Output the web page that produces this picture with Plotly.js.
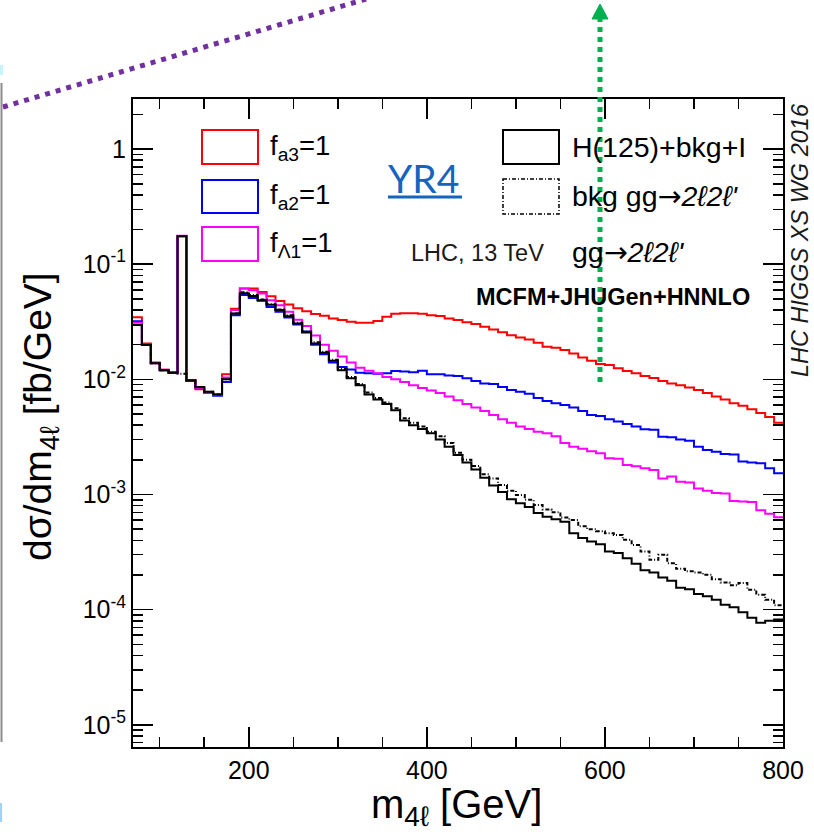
<!DOCTYPE html>
<html>
<head>
<meta charset="utf-8">
<script src="https://cdn.plot.ly/plotly-3.0.1.min.js"></script>
<style>
  html, body { margin: 0; padding: 0; background: #ffffff; }
  #chart { width: 814px; height: 839px; }
</style>
</head>
<body>
<div id="chart"></div>
<script>
// m4l bin edges [GeV], 10 GeV bins from 70 to 800
const binEdges = [70, 80, 90, 100, 110, 120, 130, 140, 150, 160, 170, 180, 190, 200, 210, 220, 230, 240, 250, 260,
  270, 280, 290, 300, 310, 320, 330, 340, 350, 360, 370, 380, 390, 400, 410, 420, 430, 440, 450, 460,
  470, 480, 490, 500, 510, 520, 530, 540, 550, 560, 570, 580, 590, 600, 610, 620, 630, 640, 650, 660,
  670, 680, 690, 700, 710, 720, 730, 740, 750, 760, 770, 780, 790, 800];

// dsigma/dm4l [fb/GeV], one value per bin
const fa3 = [0.0346, 0.0205, 0.0140, 0.0121, 0.0115, 0.176, 0.0097, 0.0082, 0.0076, 0.0074,
  0.0111, 0.041, 0.0615, 0.0615, 0.0575, 0.0527, 0.048, 0.0447, 0.0415, 0.039,
  0.037, 0.0356, 0.0338, 0.0327, 0.0316, 0.031, 0.031, 0.0322, 0.035, 0.0372,
  0.0376, 0.0376, 0.0372, 0.0360, 0.0355, 0.0337, 0.0327, 0.0313, 0.0302, 0.0286,
  0.0271, 0.0257, 0.0242, 0.0231, 0.0222, 0.0208, 0.0192, 0.0188, 0.0180, 0.0168,
  0.0155, 0.0145, 0.0136, 0.0133, 0.0125, 0.0118, 0.0113, 0.0107, 0.0103, 0.0097,
  0.0092, 0.0089, 0.0085, 0.0081, 0.0076, 0.0071, 0.0067, 0.0062, 0.0059, 0.0055,
  0.0051, 0.0047, 0.0042];

const fa2 = [0.032, 0.0202, 0.0139, 0.0120, 0.0114, 0.175, 0.0097, 0.0085, 0.0077, 0.0072,
  0.0095, 0.036, 0.054, 0.051, 0.0481, 0.0426, 0.0386, 0.0345, 0.030, 0.026,
  0.020, 0.0165, 0.014, 0.0128, 0.0122, 0.0114, 0.0113, 0.0112, 0.0113, 0.0118,
  0.0117, 0.0115, 0.0119, 0.0111, 0.0111, 0.0108, 0.0107, 0.0102, 0.0097, 0.0092,
  0.0091, 0.0086, 0.0081, 0.0078, 0.0075, 0.0069, 0.0065, 0.0062, 0.0060, 0.0057,
  0.0053, 0.0049, 0.0048, 0.0045, 0.0043, 0.0041, 0.0039, 0.00368, 0.00365, 0.00318,
  0.00315, 0.0030, 0.00293, 0.0026, 0.00243, 0.00235, 0.00225, 0.00222, 0.00193, 0.0019,
  0.00187, 0.00169, 0.00153];

const fL1 = [0.031, 0.0201, 0.0138, 0.0121, 0.0115, 0.177, 0.0098, 0.0085, 0.0077, 0.0073,
  0.0104, 0.040, 0.0615, 0.0595, 0.0557, 0.0487, 0.0441, 0.0386, 0.033, 0.029,
  0.024, 0.020, 0.0177, 0.0158, 0.014, 0.0126, 0.0119, 0.0113, 0.0105, 0.0100,
  0.0095, 0.0089, 0.0084, 0.0080, 0.0076, 0.0071, 0.0066, 0.0061, 0.0057, 0.0053,
  0.0049, 0.0045, 0.0042, 0.0039, 0.0037, 0.0035, 0.0034, 0.0032, 0.0028, 0.0026,
  0.0025, 0.00237, 0.00228, 0.00206, 0.00204, 0.0018, 0.00176, 0.00169, 0.00163, 0.00138,
  0.00143, 0.00129, 0.00127, 0.00113, 0.00108, 0.00103, 0.00102, 0.00088, 0.00087, 0.00086,
  0.00073, 0.00068, 0.000636];

const sigBkgInt = [0.0296, 0.0199, 0.0138, 0.0120, 0.0114, 0.175, 0.0098, 0.0086, 0.0078, 0.0074,
  0.0100, 0.0374, 0.056, 0.053, 0.0487, 0.0445, 0.0400, 0.0354, 0.0306, 0.0255,
  0.0205, 0.0170, 0.0145, 0.0120, 0.0102, 0.0089, 0.0074, 0.0067, 0.0061, 0.0054,
  0.0044, 0.0040, 0.0037, 0.0034, 0.0030, 0.0026, 0.0022, 0.0019, 0.00165, 0.0014,
  0.0012, 0.00105, 0.00091, 0.00084, 0.00078, 0.00069, 0.00064, 0.00061, 0.00058, 0.00046,
  0.00042, 0.00039, 0.00037, 0.00032, 0.00031, 0.00028, 0.00025, 0.00022, 0.000210, 0.000190,
  0.000178, 0.000155, 0.000150, 0.000137, 0.000131, 0.000122, 0.000110, 0.000105, 0.0000950, 0.0000850,
  0.0000770, 0.0000800, 0.0000820];

const bkgOnly = [0.0296, 0.0199, 0.0138, 0.0120, 0.0114, 0.0112, 0.0098, 0.0086, 0.0078, 0.0074,
  0.0100, 0.0374, 0.057, 0.054, 0.0495, 0.0450, 0.0405, 0.036, 0.031, 0.026,
  0.021, 0.0174, 0.0148, 0.0123, 0.0105, 0.0091, 0.0077, 0.0069, 0.0063, 0.0056,
  0.0046, 0.0042, 0.0039, 0.0035, 0.0032, 0.0028, 0.0023, 0.0020, 0.00177, 0.0015,
  0.00138, 0.00121, 0.00108, 0.00099, 0.00090, 0.00081, 0.00074, 0.00070, 0.00063, 0.00060,
  0.00053, 0.00050, 0.00048, 0.00046, 0.000446, 0.000404, 0.000365, 0.00032, 0.000271, 0.000299,
  0.000253, 0.000226, 0.000215, 0.00021, 0.000201, 0.000184, 0.000172, 0.000163, 0.00017, 0.000149,
  0.000135, 0.000122, 0.000109];

const xTickVals = [200, 400, 600, 800];
const xMinorVals = [100, 150, 250, 300, 350, 450, 500, 550, 650, 700, 750];
const yTickVals = [1e-5, 1e-4, 1e-3, 1e-2, 1e-1, 1];
const yTickText = ['10<sup>-5</sup>', '10<sup>-4</sup>', '10<sup>-3</sup>', '10<sup>-2</sup>', '10<sup>-1</sup>', '1'];

// minor log ticks 2..9 in each decade
const yMinorVals = [];
for (let e = -6; e <= 0; e++) {
  for (let k = 2; k <= 9; k++) yMinorVals.push(k * Math.pow(10, e));
}

// step outline: repeat the last bin content so the final bin reaches its upper edge
function histTrace(vals, color, dash) {
  return {
    type: 'scatter', mode: 'lines',
    x: binEdges,
    y: vals.concat([vals[vals.length - 1]]),
    line: { shape: 'hv', color: color, width: 2, dash: dash || 'solid' },
    hoverinfo: 'skip'
  };
}

const traces = [
  histTrace(fa3, '#ff0000'),
  histTrace(fa2, '#0000ff'),
  histTrace(fL1, '#ff00ff'),
  histTrace(bkgOnly, '#000000', '4px,2px,1px,2px'),
  histTrace(sigBkgInt, '#000000')
];

// frame in page pixels
const L = 133, R = 783, T = 99, B = 747;
const fx = p => (p - L) / (R - L);
const fy = p => (B - p) / (B - T);

const FONT = 'Liberation Sans, Arial, Helvetica, sans-serif';
const ARROW = '<span style="font-family:DejaVu Sans">→</span>';

function label(text, x, y, size, opts) {
  return Object.assign({
    text: text, xref: 'paper', yref: 'paper', x: fx(x), y: fy(y),
    xanchor: 'left', yanchor: 'middle', showarrow: false,
    font: { family: FONT, size: size, color: '#000000' }
  }, opts || {});
}

function box(x0, y0, x1, y1, color, dash, width) {
  return {
    type: 'rect', xref: 'paper', yref: 'paper',
    x0: fx(x0), x1: fx(x1), y0: fy(y0), y1: fy(y1),
    line: { color: color, width: width || 2, dash: dash || 'solid' },
    fillcolor: 'rgba(0,0,0,0)'
  };
}

const annotations = [
  label('f<sub>a3</sub>=1', 268, 147, 27.5),
  label('f<sub>a2</sub>=1', 268, 196, 27.5),
  label('f<sub>Λ1</sub>=1', 268, 244, 27.5),
  label('H(125)+bkg+I', 570, 147, 28.5),
  label("bkg gg" + ARROW + "<i>2ℓ2ℓ'</i>", 570, 196, 28.5),
  label("gg" + ARROW + "<i>2ℓ2ℓ'</i>", 570, 252, 28.5),
  label('LHC, 13 TeV', 409, 253, 23.5, { font: { family: FONT, size: 23.5, color: '#1a1a1a' } }),
  label('<b>MCFM+JHUGen+HNNLO</b>', 474, 297, 23.5),
  label('YR4', 386, 178, 39, { font: { family: 'Lato, Open Sans, sans-serif', size: 39, color: '#1565c0' } }),
  label('<i>LHC HIGGS XS WG 2016</i>', 800, 240, 23.5,
    { xanchor: 'center', textangle: -90, font: { family: FONT, size: 23.5, color: '#1a1a1a' } }),
  label('dσ/dm<sub>4ℓ</sub> [fb/GeV]', 40, 417, 39, { xanchor: 'center', textangle: -90 }),
  label('m<sub>4ℓ</sub> [GeV]', 456, 807, 40, { xanchor: 'center' })
];

const shapes = [
  box(202, 130, 258, 164, '#ff0000'),
  box(202, 180, 258, 213, '#0000ff'),
  box(202, 227, 258, 261, '#ff00ff'),
  box(503, 130, 559, 164, '#000000'),
  box(503, 179, 559, 214, '#000000', '4px,2px,1px,2px', 1.5),
  // underline of the YR4 link
  { type: 'line', xref: 'paper', yref: 'paper', x0: fx(388), x1: fx(462), y0: fy(197), y1: fy(197),
    line: { color: '#1565c0', width: 3 } },
  // slide annotation: purple dotted connector
  { type: 'line', xref: 'paper', yref: 'paper', x0: fx(3), y0: fy(107), x1: fx(366), y1: fy(-1),
    line: { color: '#7030a0', width: 5, dash: '5px,6px' } },
  // slide annotation: green dotted arrow
  { type: 'line', xref: 'paper', yref: 'paper', x0: fx(600), y0: fy(382), x1: fx(600), y1: fy(18),
    line: { color: '#00b050', width: 5, dash: '5px,5px' } },
  { type: 'path', xref: 'paper', yref: 'paper',
    path: 'M ' + fx(600) + ' ' + fy(4) + ' L ' + fx(592) + ' ' + fy(19) + ' L ' + fx(608) + ' ' + fy(19) + ' Z',
    fillcolor: '#00b050', line: { color: '#00b050', width: 1 } },
  // slide border remnants at the left edge
  { type: 'line', xref: 'paper', yref: 'paper', x0: fx(1.5), x1: fx(1.5), y0: fy(83), y1: fy(742),
    line: { color: '#8c8c8c', width: 2 } },
  { type: 'rect', xref: 'paper', yref: 'paper', x0: fx(0), x1: fx(3), y0: fy(65), y1: fy(75),
    fillcolor: '#c8f4ff', line: { width: 0 } },
  { type: 'rect', xref: 'paper', yref: 'paper', x0: fx(0), x1: fx(2), y0: fy(803), y1: fy(822),
    fillcolor: '#9fd3f5', line: { width: 0 } }
];

const layout = {
  width: 814, height: 839,
  margin: { l: L, r: 814 - R, t: T, b: 839 - B, pad: 0 },
  paper_bgcolor: '#ffffff', plot_bgcolor: '#ffffff',
  showlegend: false,
  font: { family: FONT, color: '#000000' },
  xaxis: {
    range: [70, 800], tickmode: 'array', tickvals: xTickVals,
    ticks: 'inside', ticklen: 20, tickwidth: 1.5, tickcolor: '#000000',
    showline: true, linecolor: '#000000', linewidth: 2, mirror: 'allticks',
    showgrid: false, zeroline: false,
    tickfont: { family: FONT, size: 25, color: '#000000' },
    minor: { tickmode: 'array', tickvals: xMinorVals, ticks: 'inside', ticklen: 10,
      tickwidth: 1.5, tickcolor: '#000000', showgrid: false }
  },
  yaxis: {
    type: 'log', range: [-5.193, 0.435], tickmode: 'array', tickvals: yTickVals, ticktext: yTickText,
    ticks: 'inside', ticklen: 20, tickwidth: 1.5, tickcolor: '#000000',
    showline: true, linecolor: '#000000', linewidth: 2, mirror: 'allticks',
    showgrid: false, zeroline: false,
    tickfont: { family: FONT, size: 25, color: '#000000' },
    minor: { tickmode: 'array', tickvals: yMinorVals, ticks: 'inside', ticklen: 10,
      tickwidth: 1.5, tickcolor: '#000000', showgrid: false }
  },
  annotations: annotations,
  shapes: shapes
};

Plotly.newPlot('chart', traces, layout, { staticPlot: true, displayModeBar: false });
</script>
</body>
</html>
